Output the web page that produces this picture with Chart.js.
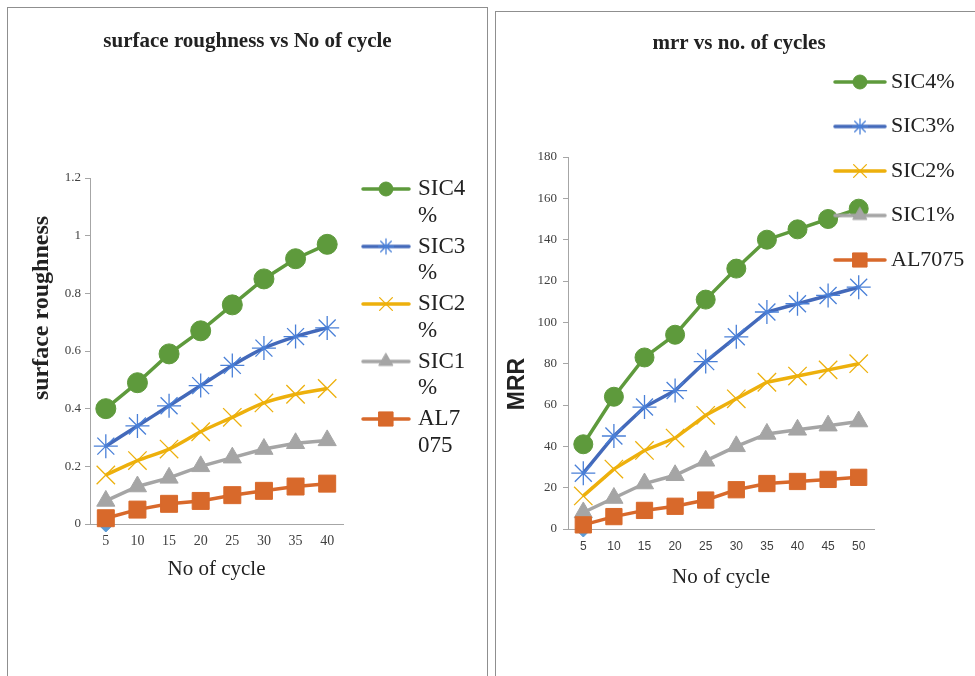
<!DOCTYPE html>
<html>
<head>
<meta charset="utf-8">
<title>surface roughness / mrr vs no. of cycles</title>
<script src="https://cdn.jsdelivr.net/npm/chart.js@4.4.1/dist/chart.umd.min.js"></script>
<style>
  html, body { margin: 0; padding: 0; background: #fff; width: 975px; height: 676px; overflow: hidden; }
  .panel { position: absolute; border: 1px solid #8f8f8f; background: #fff; overflow: hidden; }
  #panelLeft { left: 7px; top: 7px; width: 479px; height: 700px; }
  #panelRight { left: 495px; top: 11px; width: 600px; height: 700px; }
  canvas { position: absolute; left: 0; top: 0; }
</style>
</head>
<body>
<div class="panel" id="panelLeft"><canvas id="roughChart" width="479" height="668"></canvas></div>
<div class="panel" id="panelRight"><canvas id="mrrChart" width="486" height="664"></canvas></div>
<script>
// ---- data: surface roughness vs No of cycle ----
const cyclesLeft = ['5', '10', '15', '20', '25', '30', '35', '40'];
const roughSic4 = [0.40, 0.49, 0.59, 0.67, 0.76, 0.85, 0.92, 0.97];
const roughSic3 = [0.27, 0.34, 0.41, 0.48, 0.55, 0.61, 0.65, 0.68];
const roughSic2 = [0.17, 0.22, 0.26, 0.32, 0.37, 0.42, 0.45, 0.47];
const roughSic1 = [0.08, 0.13, 0.16, 0.20, 0.23, 0.26, 0.28, 0.29];
const roughAl7075 = [0.02, 0.05, 0.07, 0.08, 0.10, 0.115, 0.13, 0.14];
const roughBase = [0, null, null, null, null, null, null, null];

// ---- data: mrr vs no. of cycles ----
const cyclesRight = ['5', '10', '15', '20', '25', '30', '35', '40', '45', '50'];
const mrrSic4 = [41, 64, 83, 94, 111, 126, 140, 145, 150, 155];
const mrrSic3 = [27, 45, 59, 67, 81, 93, 105, 109, 113, 117];
const mrrSic2 = [16, 29, 38, 44, 55, 63, 71, 74, 77, 80];
const mrrSic1 = [8, 15, 22, 26, 33, 40, 46, 48, 50, 52];
const mrrAl7075 = [2, 6, 9, 11, 14, 19, 22, 23, 24, 25];
const mrrBase = [0, null, null, null, null, null, null, null, null, null];

const seriesNames = ['SIC4%', 'SIC3%', 'SIC2%', 'SIC1%', 'AL7075'];
// the left legend is narrow, so its labels wrap
const leftLegendLines = [['SIC4', '%'], ['SIC3', '%'], ['SIC2', '%'], ['SIC1', '%'], ['AL7', '075']];

// ---- styles ----
const serif = "'Liberation Serif', 'Times New Roman', serif";
const sans = "'Liberation Sans', Arial, sans-serif";
const axisColor = '#a6a6a6';
const lineColors = ['#5E9A3C', '#4369BA', '#EDB00C', '#A5A5A5', '#D8692B'];
const markerColors = ['#5E9A3C', '#4A80D8', '#EDB00C', '#A5A5A5', '#D8692B'];
const markerStyles = ['circle', 'star', 'crossRot', 'triangle', 'rect'];
const markerBorders = [1, 1.3, 1.3, 1, 1];
const radiusLeft = [10, 12, 13, 10.5, 12];
const radiusRight = [9.5, 12, 13, 10.5, 11.5];
const legendRadius = [7, 7.5, 9, 8, 10];
const drawOrder = [4, 3, 2, 1, 0]; // lower series sit on top, as in the original

// small canvas with line + marker, used as the legend point style
function legendIcon(i, width) {
    const c = document.createElement('canvas');
    c.width = width;
    c.height = 28;
    const ctx = c.getContext('2d');
    ctx.strokeStyle = lineColors[i];
    ctx.lineWidth = 3.5;
    ctx.lineCap = 'round';
    ctx.beginPath();
    ctx.moveTo(2, 14);
    ctx.lineTo(width - 2, 14);
    ctx.stroke();
    ctx.fillStyle = markerColors[i];
    ctx.strokeStyle = markerColors[i];
    ctx.lineWidth = markerBorders[i];
    if (Chart.helpers && Chart.helpers.drawPoint) {
        Chart.helpers.drawPoint(ctx, {
            pointStyle: markerStyles[i], radius: legendRadius[i],
            borderWidth: markerBorders[i], rotation: 0
        }, width / 2, 14);
    } else {
        ctx.beginPath();
        ctx.arc(width / 2, 14, legendRadius[i], 0, Math.PI * 2);
        ctx.fill();
    }
    return c;
}

function lineSet(label, data, i, radii, tension) {
    return {
        label: label,
        data: data,
        borderColor: lineColors[i],
        backgroundColor: markerColors[i],
        borderWidth: 3.5,
        pointStyle: markerStyles[i],
        pointRadius: radii[i],
        pointHoverRadius: radii[i],
        pointBackgroundColor: markerColors[i],
        pointBorderColor: markerColors[i],
        pointBorderWidth: markerBorders[i],
        tension: tension,
        order: drawOrder[i],
        clip: false,
    };
}

function baseSet(data) {
    return {
        label: 'base',
        data: data,
        showLine: false,
        pointStyle: 'rectRot',
        pointRadius: 8,
        pointBackgroundColor: '#5B9BD5',
        pointBorderColor: '#5B9BD5',
        order: 9,
        clip: false,
    };
}

// legend keeps a reserved strip on the right but is drawn where the original had it
const legendPlace = {
    id: 'legendPlace',
    beforeInit(chart) {
        const legend = chart.legend;
        const fit = legend.fit;
        legend.fit = function () {
            fit.call(this);
            this.width = chart.options.plugins.legendPlace.width;
        };
        legend._layers = () => [{ z: 1, draw: (area) => legend.draw(area) }];
    },
    afterLayout(chart, args, opts) {
        const legend = chart.legend;
        const pad = legend.options.labels.padding;
        legend.left = opts.x - pad;
        legend.top = opts.y - pad;
        legend.right = chart.width;
        legend.width = legend.right - legend.left;
        legend.bottom = chart.height;
        legend.height = legend.bottom - legend.top;
    }
};

// y axis title, placed off-centre like the original
const sideTitle = {
    id: 'sideTitle',
    afterDraw(chart, args, opts) {
        const { ctx, chartArea } = chart;
        ctx.save();
        ctx.font = opts.font;
        ctx.fillStyle = opts.color;
        ctx.textAlign = 'center';
        ctx.textBaseline = 'middle';
        ctx.translate(chart.scales.y.left + opts.dx, (chartArea.top + chartArea.bottom) / 2 + opts.dy);
        ctx.rotate(-Math.PI / 2);
        ctx.fillText(opts.text, 0, 0);
        ctx.restore();
    }
};

function legendLabels(texts, iconWidth) {
    const icons = texts.map((t, i) => legendIcon(i, iconWidth));
    return function (chart) {
        return Chart.defaults.plugins.legend.labels.generateLabels(chart)
            .filter(item => item.datasetIndex < texts.length)
            .sort((a, b) => a.datasetIndex - b.datasetIndex)
            .map(item => {
                item.text = texts[item.datasetIndex];
                item.pointStyle = icons[item.datasetIndex];
                return item;
            });
    };
}

document.addEventListener('DOMContentLoaded', function () {
    new Chart(document.getElementById('roughChart'), {
        type: 'line',
        data: {
            labels: cyclesLeft,
            datasets: [
                lineSet(seriesNames[0], roughSic4, 0, radiusLeft, 0),
                lineSet(seriesNames[1], roughSic3, 1, radiusLeft, 0.3),
                lineSet(seriesNames[2], roughSic2, 2, radiusLeft, 0.3),
                lineSet(seriesNames[3], roughSic1, 3, radiusLeft, 0),
                lineSet(seriesNames[4], roughAl7075, 4, radiusLeft, 0),
                baseSet(roughBase),
            ],
        },
        plugins: [legendPlace, sideTitle],
        options: {
            responsive: false,
            animation: false,
            events: [],
            layout: { padding: { left: 0, right: 0, top: 0, bottom: 92 } },
            scales: {
                x: {
                    offset: true,
                    ticks: { color: '#404040', font: { family: serif, size: 14 }, padding: 8.6, maxRotation: 0, autoSkip: false },
                    grid: { display: false, drawTicks: false },
                    border: { display: true, color: axisColor },
                    title: {
                        display: true, text: 'No of cycle', color: '#222',
                        font: { family: serif, size: 21 }, padding: { top: 0, bottom: 2.4 },
                    },
                    afterFit(scale) { scale.height = 60; },
                },
                y: {
                    min: 0, max: 1.2,
                    ticks: {
                        stepSize: 0.2, color: '#404040', font: { family: serif, size: 13 }, padding: 4,
                        callback: (value) => String(Number(value.toFixed(1))),
                    },
                    grid: { display: true, drawOnChartArea: false, drawTicks: true, tickLength: 5, color: axisColor },
                    border: { display: true, color: axisColor },
                    afterFit(scale) { scale.width = 82; },
                },
            },
            plugins: {
                tooltip: { enabled: false },
                title: {
                    display: true, text: 'surface roughness vs No of cycle', color: '#222',
                    font: { family: serif, size: 21, weight: 'bold' },
                    padding: { top: 21.4, bottom: 123.4 },
                },
                legend: {
                    position: 'right', align: 'start',
                    labels: {
                        usePointStyle: true, pointStyleWidth: 41, padding: 4.5, color: '#222',
                        font: { family: serif, size: 23, lineHeight: 1.152 },
                        generateLabels: legendLabels(leftLegendLines, 50),
                    },
                },
                legendPlace: { width: 144, x: 357.5, y: 169.5 },
                sideTitle: { text: 'surface roughness', font: 'bold 24px ' + serif, color: '#222', dx: 34, dy: -43 },
            },
        },
    });

    new Chart(document.getElementById('mrrChart'), {
        type: 'line',
        data: {
            labels: cyclesRight,
            datasets: [
                lineSet(seriesNames[0], mrrSic4, 0, radiusRight, 0),
                lineSet(seriesNames[1], mrrSic3, 1, radiusRight, 0),
                lineSet(seriesNames[2], mrrSic2, 2, radiusRight, 0),
                lineSet(seriesNames[3], mrrSic1, 3, radiusRight, 0),
                lineSet(seriesNames[4], mrrAl7075, 4, radiusRight, 0),
                baseSet(mrrBase),
            ],
        },
        plugins: [legendPlace, sideTitle],
        options: {
            responsive: false,
            animation: false,
            events: [],
            layout: { padding: { left: 0, right: 0, top: 0, bottom: 86 } },
            scales: {
                x: {
                    offset: true,
                    ticks: { color: '#404040', font: { family: sans, size: 12 }, padding: 10.8, maxRotation: 0, autoSkip: false },
                    grid: { display: false, drawTicks: false },
                    border: { display: true, color: axisColor },
                    title: {
                        display: true, text: 'No of cycle', color: '#222',
                        font: { family: serif, size: 21 }, padding: { top: 0, bottom: 0.4 },
                    },
                    afterFit(scale) { scale.height = 61; },
                },
                y: {
                    min: 0, max: 180,
                    ticks: { stepSize: 20, color: '#404040', font: { family: serif, size: 13 }, padding: 6 },
                    grid: { display: true, drawOnChartArea: false, drawTicks: true, tickLength: 5, color: axisColor },
                    border: { display: true, color: axisColor },
                    afterFit(scale) { scale.width = 72; },
                },
            },
            plugins: {
                tooltip: { enabled: false },
                title: {
                    display: true, text: 'mrr vs no. of cycles', color: '#222',
                    font: { family: serif, size: 21, weight: 'bold' },
                    padding: { top: 19.4, bottom: 100.4 },
                },
                legend: {
                    position: 'right', align: 'start',
                    labels: {
                        usePointStyle: true, pointStyleWidth: 40, padding: 22.5, color: '#222',
                        font: { family: serif, size: 22 },
                        generateLabels: legendLabels(seriesNames, 54),
                    },
                },
                legendPlace: { width: 108, x: 344, y: 59 },
                sideTitle: { text: 'MRR', font: 'bold 23px ' + sans, color: '#222', dx: 22, dy: 41 },
            },
        },
    });
});
</script>
</body>
</html>
